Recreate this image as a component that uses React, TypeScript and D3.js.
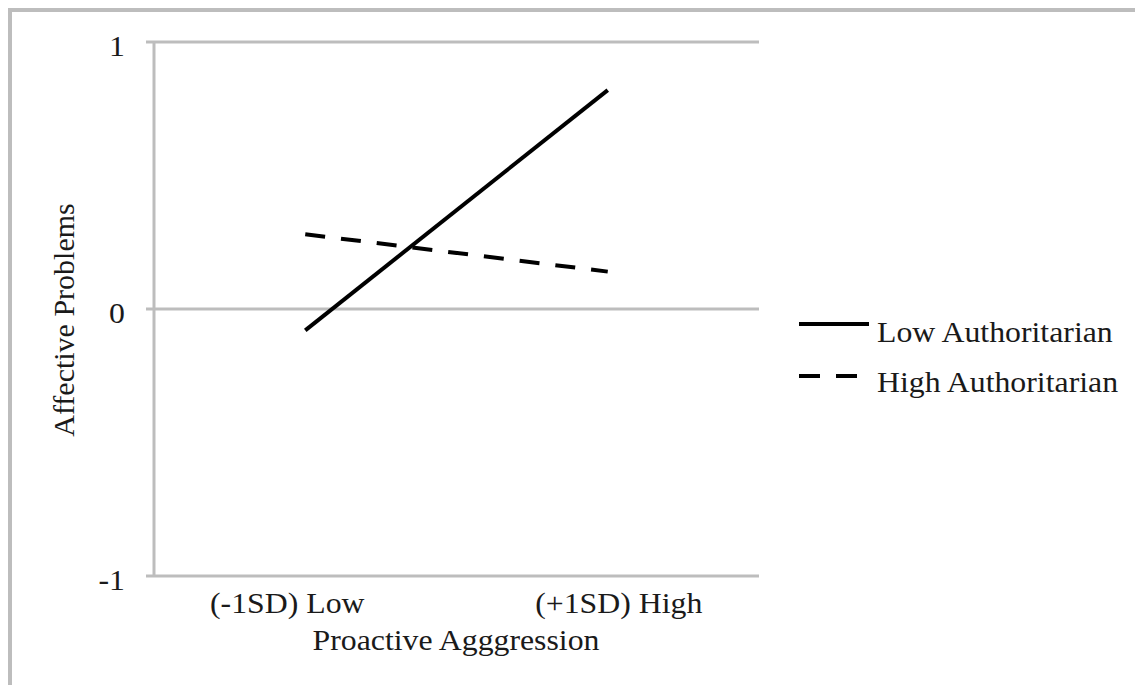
import React from "react";
import * as d3 from "d3";

const categories = ["(-1SD) Low", "(+1SD) High"];
const lowAuthoritarian = [-0.08, 0.82];
const highAuthoritarian = [0.28, 0.14];
const yTicks = [-1, 0, 1];
const seriesNames = ["Low Authoritarian", "High Authoritarian"];
const xTitle = "Proactive Agggression";
const yTitle = "Affective Problems";

export default function App() {
  const W = 1135, H = 685;
  const left = 154, right = 759, top = 42, bottom = 576;
  const x = d3.scaleBand<string>().domain(categories).range([left, right]).padding(0);
  const y = d3.scaleLinear().domain([-1, 1]).range([bottom, top]);
  const cx = (c: string) => (x(c) ?? 0) + x.bandwidth() / 2;
  const line = d3.line<number>().x((_, i) => cx(categories[i])).y((d) => y(d));
  const font = "'Liberation Serif', 'Times New Roman', serif";
  const grid = "#bdbdbd";
  const fs = 30;
  const sx = 1.06;
  const txtColor = "#1a1a1a";
  const labelShift = [-18, 11];
  const series = [
    { name: seriesNames[0], values: lowAuthoritarian, dash: null as string | null },
    { name: seriesNames[1], values: highAuthoritarian, dash: "20,16" },
  ];
  const T = (props: { x: number; y: number; anchor?: string; children: React.ReactNode }) => (
    <text
      transform={`translate(${props.x}, ${props.y}) scale(${sx}, 1)`}
      textAnchor={props.anchor ?? "start"}
      fontSize={fs}
      fill={txtColor}
    >
      {props.children}
    </text>
  );
  return (
    <svg width={W} height={H} style={{ position: "absolute", left: 0, top: 0, background: "#fff" }} fontFamily={font}>
      <rect x={0} y={0} width={W} height={H} fill="#fff" />
      <line x1={10} y1={10} x2={10} y2={H} stroke={grid} strokeWidth={4} />
      <line x1={8} y1={10} x2={W} y2={10} stroke={grid} strokeWidth={4} />
      {yTicks.map((t) => (
        <g key={t}>
          <line x1={left - 8} x2={right} y1={y(t)} y2={y(t)} stroke={grid} strokeWidth={3} />
          <T x={125} y={y(t) + 13.5} anchor="end">
            {t}
          </T>
        </g>
      ))}
      <line x1={left} x2={left} y1={top} y2={bottom} stroke={grid} strokeWidth={3} />
      {categories.map((c, i) => (
        <T key={c} x={cx(c) + labelShift[i]} y={613} anchor="middle">
          {c}
        </T>
      ))}
      <T x={456} y={650} anchor="middle">
        {xTitle}
      </T>
      <text
        transform={`translate(74, 320) rotate(-90)`}
        textAnchor="middle"
        fontSize={fs}
        fill={txtColor}
      >
        {yTitle}
      </text>
      {series.map((s) => (
        <path
          key={s.name}
          d={line(s.values) ?? ""}
          fill="none"
          stroke="#000"
          strokeWidth={4}
          strokeDasharray={s.dash ?? undefined}
        />
      ))}
      {series.map((s, i) => (
        <g key={s.name}>
          <line
            x1={799}
            x2={869}
            y1={324 + i * 52}
            y2={324 + i * 52}
            stroke="#000"
            strokeWidth={4}
            strokeDasharray={s.dash ? "21,16" : undefined}
          />
          <T x={877} y={342 + i * 50}>
            {s.name}
          </T>
        </g>
      ))}
    </svg>
  );
}
